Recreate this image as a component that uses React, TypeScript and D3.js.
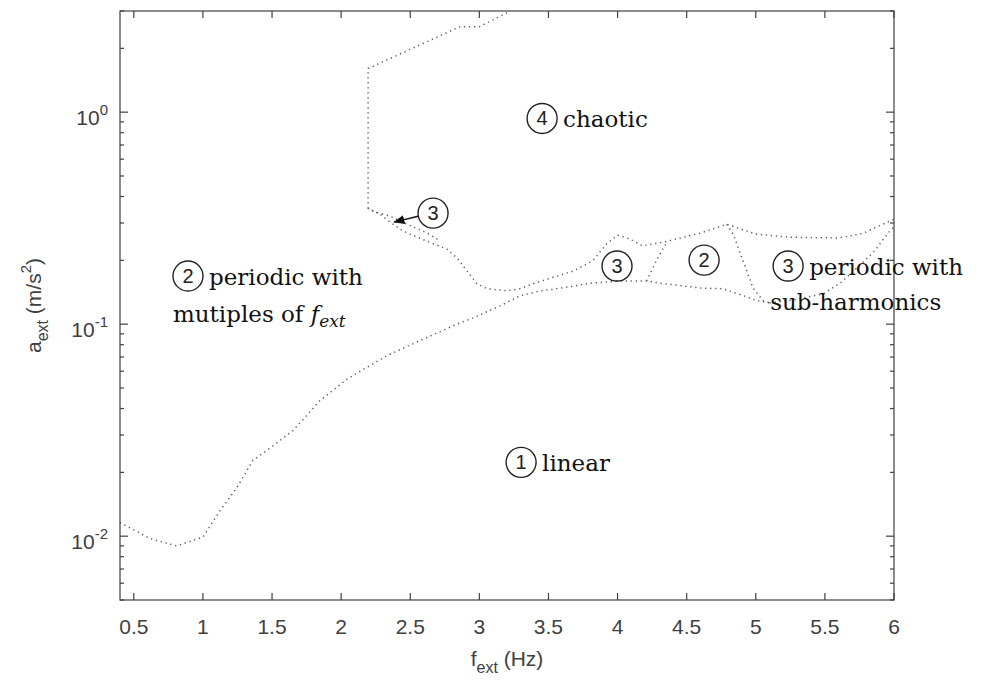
import React from "react";
import * as d3 from "d3";

// ---- axis ticks ----
const xTicks = [0.5, 1, 1.5, 2, 2.5, 3, 3.5, 4, 4.5, 5, 5.5, 6];
const yMajorTicks = [0.01, 0.1, 1];
const yMajorExp = ["-2", "-1", "0"];

// ---- boundary lines (f in Hz, a in m/s^2) ----
const linearF = [0.4, 0.617, 0.81, 1.0, 1.124, 1.247, 1.362, 1.464, 1.652, 1.847, 2.043, 2.33, 2.62, 2.86, 2.954, 3.15, 3.294, 3.44, 3.53, 3.68, 3.8, 4.02, 4.21, 4.31, 4.6, 4.76, 4.9, 5.01, 5.1];
const linearA = [0.0116, 0.00975, 0.009, 0.0099, 0.0132, 0.017, 0.0228, 0.0254, 0.0315, 0.0436, 0.0551, 0.071, 0.0865, 0.1014, 0.107, 0.122, 0.136, 0.1435, 0.146, 0.151, 0.156, 0.16, 0.16, 0.156, 0.148, 0.147, 0.137, 0.129, 0.126];

const subHarmF = [5.1, 5.3, 5.49, 5.62, 5.73, 5.85, 5.97, 6.0];
const subHarmA = [0.126, 0.131, 0.139, 0.158, 0.184, 0.218, 0.275, 0.287];

const chaoticF = [3.2, 3.0, 2.86, 2.195, 2.195, 2.281, 2.375, 2.448, 2.622, 2.766, 2.839, 2.911, 2.983, 3.056, 3.2, 3.294, 3.388, 3.49, 3.68, 3.82, 3.92, 4.0, 4.09, 4.18, 4.36, 4.6, 4.79, 5.0, 5.25, 5.6, 5.78, 6.0];
const chaoticA = [2.94, 2.53, 2.53, 1.606, 0.352, 0.33, 0.296, 0.275, 0.246, 0.226, 0.205, 0.178, 0.155, 0.147, 0.1435, 0.147, 0.155, 0.163, 0.178, 0.199, 0.239, 0.263, 0.252, 0.234, 0.246, 0.269, 0.296, 0.266, 0.257, 0.255, 0.269, 0.313];

const sliverF = [2.195, 2.231, 2.354, 2.477, 2.622, 2.72];
const sliverA = [0.352, 0.341, 0.323, 0.296, 0.269, 0.246];

const region2LeftF = [4.21, 4.29, 4.36];
const region2LeftA = [0.16, 0.205, 0.246];

const region2RightF = [4.79, 4.836, 4.908, 4.98, 5.053, 5.1];
const region2RightA = [0.296, 0.266, 0.199, 0.148, 0.129, 0.126];

// ---- annotations ----
const labelNums = ["1", "2", "3", "4", "3", "2", "3"];
const labelF = [3.302, 0.892, 2.665, 3.454, 3.996, 4.626, 5.234];
const labelA = [0.0223, 0.1687, 0.334, 0.934, 0.188, 0.2005, 0.188];
const labelText = ["linear", "periodic with", "", "chaotic", "", "", "periodic with"];

const arrowF = [2.556, 2.385];
const arrowA = [0.323, 0.303];

const W = 981;
const H = 684;
const left = 120, right = 894, top = 11, bottom = 600;

export default function App() {
  const x = d3.scaleLinear().domain([0.4, 6]).range([left, right]);
  const y = d3.scaleLog().domain([0.005, 3]).range([bottom, top]);

  const line = d3
    .line<[number, number]>()
    .x((d) => x(d[0]))
    .y((d) => y(d[1]))
    .curve(d3.curveLinear);

  const zip = (fs: number[], as: number[]) => fs.map((f, i) => [f, as[i]] as [number, number]);
  const paths = [
    zip(linearF, linearA),
    zip(subHarmF, subHarmA),
    zip(chaoticF, chaoticA),
    zip(sliverF, sliverA),
    zip(region2LeftF, region2LeftA),
    zip(region2RightF, region2RightA),
  ];

  const minorTicks: number[] = [];
  for (let e = -3; e <= 0; e++) {
    for (let m = 2; m <= 9; m++) {
      const v = m * Math.pow(10, e);
      if (v >= 0.005 && v <= 3.0001) minorTicks.push(v);
    }
  }

  const axisColor = "#404040";
  const lineColor = "#606060";
  const sans = "'Liberation Sans', Arial, sans-serif";
  const serif = "'DejaVu Serif', serif";
  const textColor = "#111";
  const R = 15;

  return (
    <svg width={W} height={H} style={{ position: "absolute", left: 0, top: 0, background: "#fff" }}>
      <rect x={0} y={0} width={W} height={H} fill="#fff" />
      {/* boundary lines */}
      {paths.map((p, i) => (
        <path
          key={i}
          d={line(p) || ""}
          fill="none"
          stroke={lineColor}
          strokeWidth={1.5}
          strokeDasharray="1.3 3.7"
        />
      ))}

      {/* axes box */}
      <rect x={left} y={top} width={right - left} height={bottom - top} fill="none" stroke={axisColor} strokeWidth={1.2} />
      {xTicks.map((t) => (
        <g key={"x" + t}>
          <line x1={x(t)} x2={x(t)} y1={bottom} y2={bottom - 7} stroke={axisColor} strokeWidth={1.2} />
          <line x1={x(t)} x2={x(t)} y1={top} y2={top + 7} stroke={axisColor} strokeWidth={1.2} />
          <text x={x(t)} y={bottom + 34} textAnchor="middle" fontFamily={sans} fontSize={21} fill={axisColor}>
            {d3.format("")(t)}
          </text>
        </g>
      ))}
      {yMajorTicks.map((t, i) => (
        <g key={"y" + t}>
          <line x1={left} x2={left + 8} y1={y(t)} y2={y(t)} stroke={axisColor} strokeWidth={1.2} />
          <line x1={right} x2={right - 8} y1={y(t)} y2={y(t)} stroke={axisColor} strokeWidth={1.2} />
          <text x={108} y={y(t) + 13} textAnchor="end" fontFamily={sans} fontSize={21} fill={axisColor}>
            10
            <tspan fontSize={15} dy={-10}>{yMajorExp[i]}</tspan>
          </text>
        </g>
      ))}
      {minorTicks.map((t) => (
        <g key={"m" + t}>
          <line x1={left} x2={left + 4} y1={y(t)} y2={y(t)} stroke={axisColor} strokeWidth={1.2} />
          <line x1={right} x2={right - 4} y1={y(t)} y2={y(t)} stroke={axisColor} strokeWidth={1.2} />
        </g>
      ))}

      {/* axis labels */}
      <text x={(left + right) / 2} y={666} textAnchor="middle" fontFamily={sans} fontSize={21} fill={axisColor}>
        f<tspan fontSize={16} dy={7}>ext</tspan>
        <tspan dy={-7}> (Hz)</tspan>
      </text>
      <text
        transform={`translate(41,${(top + bottom) / 2}) rotate(-90)`}
        textAnchor="middle"
        fontFamily={sans}
        fontSize={21}
        fill={axisColor}
      >
        a<tspan fontSize={16} dy={7}>ext</tspan>
        <tspan dy={-7}>  (m/s</tspan>
        <tspan fontSize={15} dy={-10}>2</tspan>
        <tspan dy={10}>)</tspan>
      </text>

      {/* region annotations */}
      {labelNums.map((n, i) => {
        const cx = x(labelF[i]);
        const cy = y(labelA[i]);
        return (
          <g key={"lab" + i}>
            <circle cx={cx} cy={cy} r={R} fill="none" stroke="#222" strokeWidth={1.4} />
            <text x={cx} y={cy + 7} textAnchor="middle" fontFamily={sans} fontSize={20} fill="#222">
              {n}
            </text>
            {labelText[i] && (
              <text x={cx + R + 6} y={cy + 9} fontFamily={serif} fontSize={23} fill={textColor}>
                {labelText[i]}
              </text>
            )}
          </g>
        );
      })}
      {/* second lines of multi-line labels */}
      <text x={x(labelF[1]) - 15} y={y(labelA[1]) + 46} fontFamily={serif} fontSize={23} fill={textColor}>
        mutiples of{" "}
        <tspan fontStyle="italic">f</tspan>
        <tspan fontStyle="italic" fontSize={17} dy={5}>ext</tspan>
      </text>
      <text x={x(labelF[6]) - 18} y={y(labelA[6]) + 44} fontFamily={serif} fontSize={23} fill={textColor}>
        sub-harmonics
      </text>

      {/* arrow */}
      <defs>
        <marker id="ah" viewBox="0 0 10 10" refX={9} refY={5} markerWidth={8} markerHeight={8} orient="auto">
          <path d="M0,1 L10,5 L0,9 z" fill="#111" />
        </marker>
      </defs>
      <line
        x1={x(arrowF[0])}
        y1={y(arrowA[0])}
        x2={x(arrowF[1])}
        y2={y(arrowA[1])}
        stroke="#111"
        strokeWidth={1.4}
        markerEnd="url(#ah)"
      />
    </svg>
  );
}
